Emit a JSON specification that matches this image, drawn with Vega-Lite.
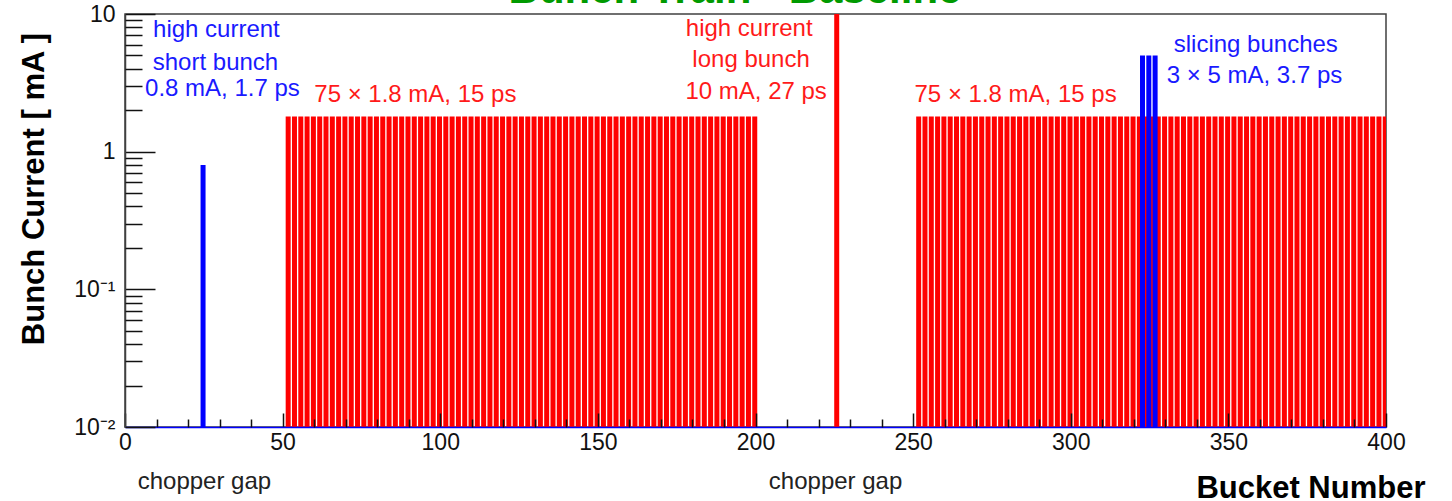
{
  "$schema": "https://vega.github.io/schema/vega-lite/v6.json",
  "width": 1261,
  "height": 413,
  "autosize": {"type": "none"},
  "padding": {"left": 125, "top": 14, "right": 66, "bottom": 74},
  "background": "white",
  "config": {"font": "Liberation Sans", "view": {"stroke": "#404040", "strokeWidth": 1.5}},
  "datasets": {
    "red": [
      {"bucket":51,"current":1.8},{"bucket":53,"current":1.8},{"bucket":55,"current":1.8},{"bucket":57,"current":1.8},{"bucket":59,"current":1.8},
      {"bucket":61,"current":1.8},{"bucket":63,"current":1.8},{"bucket":65,"current":1.8},{"bucket":67,"current":1.8},{"bucket":69,"current":1.8},
      {"bucket":71,"current":1.8},{"bucket":73,"current":1.8},{"bucket":75,"current":1.8},{"bucket":77,"current":1.8},{"bucket":79,"current":1.8},
      {"bucket":81,"current":1.8},{"bucket":83,"current":1.8},{"bucket":85,"current":1.8},{"bucket":87,"current":1.8},{"bucket":89,"current":1.8},
      {"bucket":91,"current":1.8},{"bucket":93,"current":1.8},{"bucket":95,"current":1.8},{"bucket":97,"current":1.8},{"bucket":99,"current":1.8},
      {"bucket":101,"current":1.8},{"bucket":103,"current":1.8},{"bucket":105,"current":1.8},{"bucket":107,"current":1.8},{"bucket":109,"current":1.8},
      {"bucket":111,"current":1.8},{"bucket":113,"current":1.8},{"bucket":115,"current":1.8},{"bucket":117,"current":1.8},{"bucket":119,"current":1.8},
      {"bucket":121,"current":1.8},{"bucket":123,"current":1.8},{"bucket":125,"current":1.8},{"bucket":127,"current":1.8},{"bucket":129,"current":1.8},
      {"bucket":131,"current":1.8},{"bucket":133,"current":1.8},{"bucket":135,"current":1.8},{"bucket":137,"current":1.8},{"bucket":139,"current":1.8},
      {"bucket":141,"current":1.8},{"bucket":143,"current":1.8},{"bucket":145,"current":1.8},{"bucket":147,"current":1.8},{"bucket":149,"current":1.8},
      {"bucket":151,"current":1.8},{"bucket":153,"current":1.8},{"bucket":155,"current":1.8},{"bucket":157,"current":1.8},{"bucket":159,"current":1.8},
      {"bucket":161,"current":1.8},{"bucket":163,"current":1.8},{"bucket":165,"current":1.8},{"bucket":167,"current":1.8},{"bucket":169,"current":1.8},
      {"bucket":171,"current":1.8},{"bucket":173,"current":1.8},{"bucket":175,"current":1.8},{"bucket":177,"current":1.8},{"bucket":179,"current":1.8},
      {"bucket":181,"current":1.8},{"bucket":183,"current":1.8},{"bucket":185,"current":1.8},{"bucket":187,"current":1.8},{"bucket":189,"current":1.8},
      {"bucket":191,"current":1.8},{"bucket":193,"current":1.8},{"bucket":195,"current":1.8},{"bucket":197,"current":1.8},{"bucket":199,"current":1.8},
      {"bucket":225,"current":10},
      {"bucket":251,"current":1.8},{"bucket":253,"current":1.8},{"bucket":255,"current":1.8},{"bucket":257,"current":1.8},{"bucket":259,"current":1.8},
      {"bucket":261,"current":1.8},{"bucket":263,"current":1.8},{"bucket":265,"current":1.8},{"bucket":267,"current":1.8},{"bucket":269,"current":1.8},
      {"bucket":271,"current":1.8},{"bucket":273,"current":1.8},{"bucket":275,"current":1.8},{"bucket":277,"current":1.8},{"bucket":279,"current":1.8},
      {"bucket":281,"current":1.8},{"bucket":283,"current":1.8},{"bucket":285,"current":1.8},{"bucket":287,"current":1.8},{"bucket":289,"current":1.8},
      {"bucket":291,"current":1.8},{"bucket":293,"current":1.8},{"bucket":295,"current":1.8},{"bucket":297,"current":1.8},{"bucket":299,"current":1.8},
      {"bucket":301,"current":1.8},{"bucket":303,"current":1.8},{"bucket":305,"current":1.8},{"bucket":307,"current":1.8},{"bucket":309,"current":1.8},
      {"bucket":311,"current":1.8},{"bucket":313,"current":1.8},{"bucket":315,"current":1.8},{"bucket":317,"current":1.8},{"bucket":319,"current":1.8},
      {"bucket":321,"current":1.8},{"bucket":323,"current":1.8},{"bucket":325,"current":1.8},{"bucket":327,"current":1.8},{"bucket":329,"current":1.8},
      {"bucket":331,"current":1.8},{"bucket":333,"current":1.8},{"bucket":335,"current":1.8},{"bucket":337,"current":1.8},{"bucket":339,"current":1.8},
      {"bucket":341,"current":1.8},{"bucket":343,"current":1.8},{"bucket":345,"current":1.8},{"bucket":347,"current":1.8},{"bucket":349,"current":1.8},
      {"bucket":351,"current":1.8},{"bucket":353,"current":1.8},{"bucket":355,"current":1.8},{"bucket":357,"current":1.8},{"bucket":359,"current":1.8},
      {"bucket":361,"current":1.8},{"bucket":363,"current":1.8},{"bucket":365,"current":1.8},{"bucket":367,"current":1.8},{"bucket":369,"current":1.8},
      {"bucket":371,"current":1.8},{"bucket":373,"current":1.8},{"bucket":375,"current":1.8},{"bucket":377,"current":1.8},{"bucket":379,"current":1.8},
      {"bucket":381,"current":1.8},{"bucket":383,"current":1.8},{"bucket":385,"current":1.8},{"bucket":387,"current":1.8},{"bucket":389,"current":1.8},
      {"bucket":391,"current":1.8},{"bucket":393,"current":1.8},{"bucket":395,"current":1.8},{"bucket":397,"current":1.8},{"bucket":399,"current":1.8}
    ],
    "blue": [
      {"bucket":24,"current":0.8},
      {"bucket":322,"current":5},{"bucket":324,"current":5},{"bucket":326,"current":5}
    ],
    "blueLabels": [
      {"bucket":29.0,"current":6.81,"text":"high current"},
      {"bucket":28.7,"current":3.92,"text":"short bunch"},
      {"bucket":30.9,"current":2.54,"text":"0.8 mA, 1.7 ps"},
      {"bucket":358.7,"current":5.30,"text":"slicing bunches"},
      {"bucket":358.3,"current":3.14,"text":"3 × 5 mA, 3.7 ps"}
    ],
    "redLabels": [
      {"bucket":92.1,"current":2.30,"text":"75 × 1.8 mA, 15 ps"},
      {"bucket":282.5,"current":2.30,"text":"75 × 1.8 mA, 15 ps"},
      {"bucket":198.0,"current":6.92,"text":"high current"},
      {"bucket":198.6,"current":4.12,"text":"long bunch"},
      {"bucket":200.2,"current":2.42,"text":"10 mA, 27 ps"}
    ],
    "gaps": [
      {"bucket":25.2,"current":0.01,"text":"chopper gap"},
      {"bucket":225.4,"current":0.01,"text":"chopper gap"}
    ],
    "heading": [
      {"bucket":193.5,"current":12.0,"text":"Bunch Train - Baseline"}
    ]
  },
  "resolve": {"axis": {"x": "independent", "y": "independent"}},
  "layer": [
    {
      "data": {"name": "red"},
      "mark": {"type": "bar", "color": "#ff0000", "size": 5, "xOffset": 2.4, "clip": true},
      "encoding": {
        "x": {
          "field": "bucket", "type": "quantitative",
          "scale": {"domain": [0, 400], "nice": false, "zero": false, "padding": 0},
          "axis": {
            "orient": "bottom", "zindex": 1,
            "values": [0,50,100,150,200,250,300,350,400],
            "labelFontSize": 23, "labelColor": "#111111", "labelPadding": 18,
            "labelAlign": "center", "labelBaseline": "top",
            "labelFlush": false, "labelOverlap": false, "labelBound": false,
            "tickSize": -14, "tickColor": "#111111", "tickWidth": 1.5,
            "domainColor": "#0000ff", "domainWidth": 1.5, "grid": false,
            "title": "Bucket Number", "titleFontSize": 31, "titleFontWeight": "bold", "titleColor": "#000000",
            "titleAnchor": "end", "titleAlign": "right", "titleX": 1300, "titleY": 70, "titleBaseline": "alphabetic"
          }
        },
        "y": {
          "field": "current", "type": "quantitative", "stack": null,
          "scale": {"type": "log", "domain": [0.01, 10], "nice": false},
          "axis": {
            "orient": "left", "zindex": 1,
            "values": [0.01, 0.1, 1, 10],
            "labelExpr": "datum.value == 10 ? '10' : datum.value == 1 ? '1' : datum.value == 0.1 ? '10⁻¹' : '10⁻²'",
            "labelFontSize": 23, "labelColor": "#111111", "labelPadding": 40,
            "labelAlign": "right", "labelBaseline": "middle",
            "labelFlush": false, "labelOverlap": false, "labelBound": false,
            "tickSize": -30, "tickColor": "#111111", "tickWidth": 1.5,
            "domainColor": "#404040", "domainWidth": 1.5, "grid": false,
            "title": "Bunch Current [ mA ]", "titleFontSize": 31, "titleFontWeight": "bold", "titleColor": "#000000",
            "titleAngle": 270, "titleAlign": "center", "titleBaseline": "alphabetic", "titleX": -81.5, "titleY": 174.5
          }
        }
      }
    },
    {
      "data": {"name": "blue"},
      "mark": {"type": "bar", "color": "#0000ff", "size": 5, "xOffset": 2.4, "clip": true},
      "encoding": {
        "x": {
          "field": "bucket", "type": "quantitative",
          "axis": {
            "orient": "bottom", "zindex": 1,
            "values": [10,20,30,40,60,70,80,90,110,120,130,140,160,170,180,190,210,220,230,240,260,270,280,290,310,320,330,340,360,370,380,390],
            "labels": false, "domain": false, "grid": false, "title": null,
            "tickSize": -8, "tickColor": "#111111", "tickWidth": 1.5
          }
        },
        "y": {
          "field": "current", "type": "quantitative", "stack": null, "scale": {"type": "log"},
          "axis": {
            "orient": "left", "zindex": 1,
            "values": [0.02,0.03,0.04,0.05,0.06,0.07,0.08,0.09,0.2,0.3,0.4,0.5,0.6,0.7,0.8,0.9,2,3,4,5,6,7,8,9],
            "labels": false, "domain": false, "grid": false, "title": null,
            "tickSize": -17, "tickColor": "#111111", "tickWidth": 1.5
          }
        }
      }
    },
    {
      "data": {"name": "blueLabels"},
      "mark": {"type": "text", "color": "#1a1aff", "fontSize": 24, "align": "center", "baseline": "alphabetic", "font": "Liberation Sans"},
      "encoding": {
        "x": {"field": "bucket", "type": "quantitative", "axis": null},
        "y": {"field": "current", "type": "quantitative", "scale": {"type": "log"}, "axis": null},
        "text": {"field": "text"}
      }
    },
    {
      "data": {"name": "redLabels"},
      "mark": {"type": "text", "color": "#ff1a1a", "fontSize": 24, "align": "center", "baseline": "alphabetic", "font": "Liberation Sans"},
      "encoding": {
        "x": {"field": "bucket", "type": "quantitative", "axis": null},
        "y": {"field": "current", "type": "quantitative", "scale": {"type": "log"}, "axis": null},
        "text": {"field": "text"}
      }
    },
    {
      "data": {"name": "gaps"},
      "mark": {"type": "text", "color": "#222222", "fontSize": 24, "align": "center", "baseline": "alphabetic", "dy": 62, "clip": false, "font": "Liberation Sans"},
      "encoding": {
        "x": {"field": "bucket", "type": "quantitative", "axis": null},
        "y": {"field": "current", "type": "quantitative", "scale": {"type": "log"}, "axis": null},
        "text": {"field": "text"}
      }
    },
    {
      "data": {"name": "heading"},
      "mark": {"type": "text", "color": "#009a00", "fontSize": 42, "fontWeight": "bold", "align": "center", "baseline": "alphabetic", "clip": false, "font": "Liberation Sans"},
      "encoding": {
        "x": {"field": "bucket", "type": "quantitative", "axis": null},
        "y": {"field": "current", "type": "quantitative", "scale": {"type": "log"}, "axis": null},
        "text": {"field": "text"}
      }
    }
  ]
}
